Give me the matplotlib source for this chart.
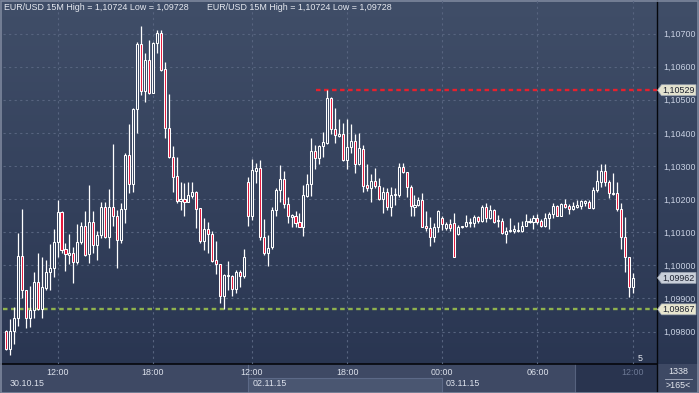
import numpy as np
import matplotlib
matplotlib.use('Agg')
import matplotlib.pyplot as plt
from matplotlib.patches import Polygon, Rectangle
from matplotlib.lines import Line2D
from matplotlib import transforms

plt.rcParams['font.family'] = ['Liberation Sans', 'DejaVu Sans']

# ---------------- data (EUR/USD 15M candles) ----------------
opens = [1.09802, 1.09748, 1.09802, 1.09840, 1.10028, 1.09925, 1.09842, 1.09865, 1.09950, 1.09869,
         1.09931, 1.09979, 1.09992, 1.10071, 1.10161, 1.10049, 1.10032, 1.10036, 1.10011, 1.10069,
         1.10118, 1.10033, 1.10131, 1.10061, 1.10092, 1.10175, 1.10086, 1.10175, 1.10149, 1.10076,
         1.10169, 1.10333, 1.10245, 1.10471, 1.10669, 1.10526, 1.10619, 1.10520, 1.10671, 1.10701,
         1.10592, 1.10414, 1.10326, 1.10270, 1.10194, 1.10199, 1.10192, 1.10210, 1.10221, 1.10172,
         1.10074, 1.10109, 1.10094, 1.10016, 1.10003, 1.09908, 1.09968, 1.09969, 1.09928, 1.09979,
         1.09969, 1.10253, 1.10150, 1.10286, 1.10293, 1.10086, 1.10036, 1.10054, 1.10167, 1.10227,
         1.10261, 1.10184, 1.10147, 1.10149, 1.10131, 1.10117, 1.10210, 1.10245, 1.10345, 1.10323,
         1.10360, 1.10370, 1.10505, 1.10411, 1.10392, 1.10397, 1.10318, 1.10356, 1.10376, 1.10305,
         1.10351, 1.10243, 1.10234, 1.10255, 1.10240, 1.10199, 1.10222, 1.10175, 1.10211, 1.10211,
         1.10296, 1.10281, 1.10236, 1.10177, 1.10182, 1.10197, 1.10119, 1.10112, 1.10085, 1.10115,
         1.10142, 1.10114, 1.10125, 1.10129, 1.10094, 1.10115, 1.10118, 1.10127, 1.10127, 1.10145,
         1.10134, 1.10175, 1.10142, 1.10167, 1.10133, 1.10134, 1.10095, 1.10104, 1.10105, 1.10104,
         1.10104, 1.10120, 1.10130, 1.10130, 1.10142, 1.10135, 1.10120, 1.10142, 1.10154, 1.10179,
         1.10150, 1.10184, 1.10179, 1.10170, 1.10175, 1.10180, 1.10189, 1.10192, 1.10172, 1.10227,
         1.10253, 1.10285, 1.10251, 1.10216, 1.10218, 1.10169, 1.10086, 1.10024, 1.09935]
highs = [1.09805, 1.09838, 1.09874, 1.10098, 1.10170, 1.09925, 1.09937, 1.09980, 1.10036, 1.10026,
         1.10016, 1.10064, 1.10110, 1.10197, 1.10164, 1.10066, 1.10095, 1.10056, 1.10125, 1.10132,
         1.10163, 1.10243, 1.10165, 1.10105, 1.10190, 1.10190, 1.10230, 1.10366, 1.10167, 1.10189,
         1.10338, 1.10426, 1.10476, 1.10676, 1.10724, 1.10640, 1.10681, 1.10676, 1.10711, 1.10711,
         1.10614, 1.10517, 1.10360, 1.10328, 1.10251, 1.10250, 1.10251, 1.10251, 1.10224, 1.10172,
         1.10142, 1.10130, 1.10105, 1.10074, 1.10005, 1.09974, 1.10014, 1.09971, 1.09986, 1.09986,
         1.10048, 1.10266, 1.10320, 1.10308, 1.10318, 1.10139, 1.10092, 1.10177, 1.10233, 1.10303,
         1.10285, 1.10207, 1.10155, 1.10164, 1.10157, 1.10243, 1.10276, 1.10384, 1.10363, 1.10363,
         1.10404, 1.10529, 1.10507, 1.10474, 1.10441, 1.10429, 1.10441, 1.10427, 1.10397, 1.10401,
         1.10363, 1.10306, 1.10276, 1.10295, 1.10265, 1.10237, 1.10233, 1.10236, 1.10234, 1.10308,
         1.10308, 1.10283, 1.10243, 1.10212, 1.10207, 1.10218, 1.10164, 1.10147, 1.10129, 1.10166,
         1.10150, 1.10132, 1.10139, 1.10157, 1.10122, 1.10120, 1.10152, 1.10142, 1.10152, 1.10149,
         1.10182, 1.10187, 1.10182, 1.10169, 1.10152, 1.10142, 1.10117, 1.10142, 1.10122, 1.10132,
         1.10135, 1.10154, 1.10142, 1.10152, 1.10154, 1.10139, 1.10159, 1.10162, 1.10187, 1.10182,
         1.10187, 1.10199, 1.10184, 1.10192, 1.10197, 1.10197, 1.10196, 1.10197, 1.10237, 1.10288,
         1.10305, 1.10305, 1.10258, 1.10280, 1.10253, 1.10187, 1.10147, 1.10026, 1.09978]
lows = [1.09744, 1.09728, 1.09761, 1.09817, 1.09900, 1.09810, 1.09815, 1.09842, 1.09865, 1.09842,
        1.09925, 1.09925, 1.09966, 1.10026, 1.10037, 1.09984, 1.10003, 1.09947, 1.10003, 1.10063,
        1.10029, 1.10006, 1.10036, 1.10016, 1.10082, 1.10082, 1.10053, 1.10119, 1.09991, 1.10067,
        1.10129, 1.10218, 1.10222, 1.10399, 1.10514, 1.10494, 1.10517, 1.10520, 1.10642, 1.10588,
        1.10384, 1.10323, 1.10222, 1.10187, 1.10167, 1.10149, 1.10190, 1.10204, 1.10112, 1.10066,
        1.10046, 1.10038, 1.10011, 1.09974, 1.09887, 1.09867, 1.09925, 1.09907, 1.09915, 1.09935,
        1.09961, 1.10120, 1.10137, 1.10248, 1.10076, 1.10031, 1.09998, 1.10049, 1.10149, 1.10192,
        1.10172, 1.10129, 1.10117, 1.10117, 1.10115, 1.10089, 1.10207, 1.10210, 1.10291, 1.10306,
        1.10326, 1.10366, 1.10397, 1.10370, 1.10389, 1.10316, 1.10290, 1.10338, 1.10278, 1.10303,
        1.10222, 1.10224, 1.10192, 1.10233, 1.10197, 1.10159, 1.10167, 1.10150, 1.10182, 1.10207,
        1.10278, 1.10207, 1.10149, 1.10149, 1.10179, 1.10115, 1.10105, 1.10058, 1.10071, 1.10102,
        1.10107, 1.10107, 1.10105, 1.10024, 1.10092, 1.10113, 1.10115, 1.10115, 1.10115, 1.10127,
        1.10132, 1.10132, 1.10140, 1.10127, 1.10117, 1.10095, 1.10068, 1.10102, 1.10097, 1.10102,
        1.10102, 1.10118, 1.10129, 1.10109, 1.10125, 1.10115, 1.10115, 1.10109, 1.10144, 1.10148,
        1.10148, 1.10172, 1.10154, 1.10167, 1.10173, 1.10169, 1.10180, 1.10172, 1.10169, 1.10222,
        1.10237, 1.10240, 1.10202, 1.10212, 1.10164, 1.10048, 1.09981, 1.09903, 1.09915]
closes = [1.09746, 1.09802, 1.09840, 1.10028, 1.09925, 1.09842, 1.09865, 1.09950, 1.09869, 1.09934,
          1.09979, 1.09992, 1.10069, 1.10161, 1.10046, 1.10033, 1.10036, 1.10011, 1.10069, 1.10118,
          1.10031, 1.10131, 1.10061, 1.10092, 1.10175, 1.10086, 1.10175, 1.10149, 1.10076, 1.10169,
          1.10333, 1.10245, 1.10472, 1.10669, 1.10526, 1.10619, 1.10520, 1.10671, 1.10701, 1.10590,
          1.10414, 1.10326, 1.10268, 1.10195, 1.10199, 1.10192, 1.10211, 1.10221, 1.10170, 1.10074,
          1.10109, 1.10094, 1.10014, 1.10003, 1.09908, 1.09971, 1.09971, 1.09928, 1.09979, 1.09969,
          1.10026, 1.10150, 1.10288, 1.10293, 1.10086, 1.10036, 1.10053, 1.10167, 1.10227, 1.10261,
          1.10184, 1.10150, 1.10152, 1.10129, 1.10117, 1.10212, 1.10246, 1.10345, 1.10323, 1.10360,
          1.10372, 1.10505, 1.10411, 1.10393, 1.10397, 1.10318, 1.10356, 1.10376, 1.10305, 1.10353,
          1.10240, 1.10234, 1.10255, 1.10240, 1.10199, 1.10222, 1.10175, 1.10212, 1.10214, 1.10296,
          1.10281, 1.10236, 1.10179, 1.10182, 1.10197, 1.10117, 1.10112, 1.10085, 1.10115, 1.10164,
          1.10125, 1.10125, 1.10114, 1.10026, 1.10117, 1.10118, 1.10130, 1.10130, 1.10147, 1.10134,
          1.10175, 1.10142, 1.10167, 1.10132, 1.10136, 1.10097, 1.10104, 1.10107, 1.10109, 1.10107,
          1.10120, 1.10133, 1.10135, 1.10142, 1.10132, 1.10120, 1.10142, 1.10155, 1.10179, 1.10150,
          1.10184, 1.10177, 1.10170, 1.10179, 1.10182, 1.10194, 1.10194, 1.10174, 1.10227, 1.10255,
          1.10285, 1.10251, 1.10218, 1.10219, 1.10169, 1.10086, 1.10024, 1.09935, 1.09962]

time_tick_idx = [13, 37, 62, 86, 110, 134, 158]
time_tick_labels = ['12:00', '18:00', '12:00', '18:00', '00:00', '06:00', '12:00']
date_labels = ['30.10.15', '02.11.15', '03.11.15']
date_label_idx = [1.0, 62.3, 110.9]
price_ticks = [1.098, 1.099, 1.100, 1.101, 1.102, 1.103, 1.104, 1.105, 1.106, 1.107]
high_level = 1.10529
high_level_start = 78.2
low_level = 1.09867
last_price = 1.09962
title = 'EUR/USD 15M High = 1,10724 Low = 1,09728'
bars_info = ['1338', '>165<']

# ---------------- layout ----------------
W, H = 699, 393
fig = plt.figure(figsize=(W / 100, H / 100), dpi=100)

def fx(px):
    return px / W

def fy(py):
    return 1 - py / H

# background gradient
bg = fig.add_axes([0, 0, 1, 1])
grad = np.linspace(0, 1, 256)[:, None]
top_c = np.array([64, 78, 104]) / 255
bot_c = np.array([40, 52, 80]) / 255
img = top_c[None, None, :] * (1 - grad[:, :, None]) + bot_c[None, None, :] * grad[:, :, None]
bg.imshow(img, extent=[0, 1, 0, 1], aspect='auto', origin='upper', zorder=0)
bg.set_xlim(0, 1)
bg.set_ylim(0, 1)
bg.axis('off')

# bottom strip
strip_c = '#3e4964'
bg.add_patch(Rectangle((0, 0), 1, fy(364), facecolor=strip_c, edgecolor='none', zorder=1))
bg.add_patch(Rectangle((fx(248), 0), fx(442) - fx(248), fy(378), facecolor='#4a5671',
                       edgecolor='none', zorder=2))
bg.add_line(Line2D([fx(248), fx(442)], [fy(378), fy(378)], color='#5c6987', lw=0.8, zorder=3))
bg.add_line(Line2D([fx(248), fx(248)], [0, fy(364)], color='#5c6987', lw=0.8, zorder=3))
bg.add_line(Line2D([fx(442), fx(442)], [0, fy(378)], color='#5c6987', lw=0.8, zorder=3))
bg.add_patch(Rectangle((fx(575), 0), fx(656.5) - fx(575), fy(364), facecolor='#29344f',
                       edgecolor='none', zorder=2))
bg.add_line(Line2D([fx(575), fx(575)], [0, fy(364)], color='#56627e', lw=0.8, zorder=3))
bg.add_line(Line2D([fx(656.7), fx(656.7)], [0, 1], color='#05070c', lw=1.0, zorder=4))
bg.add_line(Line2D([0, fx(656.7)], [fy(364.3), fy(364.3)], color='#05070c', lw=1.2, zorder=4))
bg.add_patch(Rectangle((0.0008, 0.001), 0.998, 0.997, facecolor='none', edgecolor='#7d879d',
                       lw=1.2, zorder=5))

# main axes
n = len(opens)
ax = fig.add_axes([fx(3), fy(364), fx(656.7) - fx(3), 364 / H])
ax.set_facecolor('none')
y_top = 1.1 + 265.3 / 33100
y_bot = 1.1 - 98.7 / 33100
ax.set_ylim(y_bot, y_top)
x0 = (3 - 6) / 3.966
x1 = (656.7 - 6) / 3.966
ax.set_xlim(x0, x1)

grid_c = '#57647f'
for p in price_ticks:
    ax.axhline(p, color=grid_c, lw=0.8, ls=(0, (2, 3)), zorder=1)
for t in time_tick_idx:
    ax.axvline(t, color=grid_c, lw=0.8, ls=(0, (2, 3)), zorder=1)

# levels
ax.plot([high_level_start, x1], [high_level, high_level], color='#e8202c', lw=1.7,
        ls=(0, (1.9, 1.5)), zorder=2, solid_capstyle='butt')
ax.plot([x0, x1], [low_level, low_level], color='#8fb24e', lw=1.7,
        ls=(0, (1.9, 1.5)), zorder=2)

# candles
red = '#e3163a'
body_bg = '#37445f'
bw = 0.52
min_h = 0.6 / 33100
for i in range(n):
    o, h, l, c = opens[i], highs[i], lows[i], closes[i]
    bot = min(o, c)
    top = max(o, c)
    ax.plot([i, i], [top, h], color='white', lw=0.9, zorder=3, solid_capstyle='butt')
    ax.plot([i, i], [l, bot], color='white', lw=0.9, zorder=3, solid_capstyle='butt')
    hgt = max(top - bot, min_h)
    fc = red if c < o else body_bg
    ax.add_patch(Rectangle((i - bw / 2, bot), bw, hgt, facecolor=fc, edgecolor='white',
                           lw=0.75, zorder=4))

# axes styling
for s in ['top', 'left', 'right', 'bottom']:
    ax.spines[s].set_visible(False)
ax.yaxis.tick_right()
ax.set_yticks(price_ticks)
ax.set_yticklabels([('%.5f' % p).replace('.', ',') for p in price_ticks])
ax.tick_params(axis='y', length=0, pad=5, labelcolor='#c9d1e3', labelsize=6.4)
ax.set_xticks(time_tick_idx)
ax.set_xticklabels(time_tick_labels)
ax.tick_params(axis='x', length=0, pad=3.2, labelcolor='#dde2ec', labelsize=6.4)
ax.get_xticklabels()[-1].set_color('#6c7894')

trans_xd = transforms.blended_transform_factory(ax.transData, fig.transFigure)
for lab, xi in zip(date_labels, date_label_idx):
    ax.text(xi, fy(384), lab, transform=trans_xd, color='#dde2ec', fontsize=6.4,
            ha='left', va='center', clip_on=False)

# title texts
fig.text(fx(4), fy(7.5), title, color='#e6e9f0', fontsize=6.4, ha='left', va='center')
fig.text(fx(207), fy(7.5), title, color='#e6e9f0', fontsize=6.4, ha='left', va='center')

# price tags
trans_fd = transforms.blended_transform_factory(fig.transFigure, ax.transData)
half = 5.5 / 33100
def tag(price, txt, fc):
    pts = [(fx(657.5), price), (fx(661.5), price + half), (fx(696), price + half),
           (fx(696), price - half), (fx(661.5), price - half)]
    ax.add_patch(Polygon(pts, closed=True, transform=trans_fd, facecolor=fc,
                         edgecolor='#9aa2b0', lw=0.5, clip_on=False, zorder=10))
    ax.text(fx(662.5), price, txt, transform=trans_fd, color='#1c2130', fontsize=6.4,
            ha='left', va='center', clip_on=False, zorder=11)

tag(high_level, ('%.5f' % high_level).replace('.', ','), '#e3e2cf')
tag(last_price, ('%.5f' % last_price).replace('.', ','), '#c9cfd9')
tag(low_level, ('%.5f' % low_level).replace('.', ','), '#e8e6cf')

# bottom-right info box
fig.text(fx(678), fy(371.5), bars_info[0], color='#e6e9f0', fontsize=6.4, ha='center', va='center')
bg.add_line(Line2D([fx(665), fx(692)], [fy(378.5), fy(378.5)], color='#aab2c4', lw=0.6, zorder=6))
fig.text(fx(678), fy(385), bars_info[1], color='#e6e9f0', fontsize=6.4, ha='center', va='center')

# small "5" marker
fig.text(fx(640), fy(358.5), '5', color='#e6e9f0', fontsize=6.4, ha='center', va='center')

fig.savefig('out.png', dpi=100)
